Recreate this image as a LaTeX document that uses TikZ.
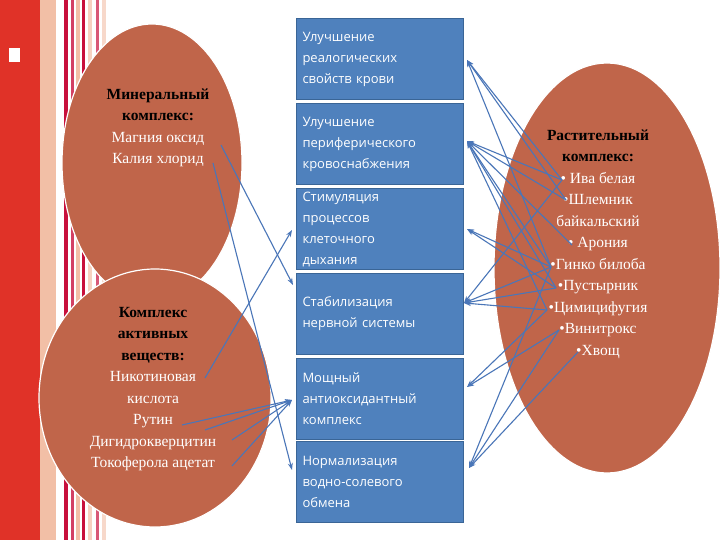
\documentclass[tikz,border=0pt]{standalone}
\usepackage{fontspec}
\setmainfont{Liberation Serif}
\newfontfamily\boxfont{Open Sans}
\usetikzlibrary{arrows.meta,shapes.geometric}
\definecolor{ell}{HTML}{C0654A}
\definecolor{bx}{HTML}{4F81BD}
\definecolor{bxd}{HTML}{3A6596}
\definecolor{ln}{HTML}{4A76B8}
\definecolor{redb}{HTML}{E03228}
\definecolor{crim}{HTML}{C8103C}
\definecolor{peach}{HTML}{F2BFA6}
\begin{document}
\begin{tikzpicture}[x=1pt,y=-1pt,
 ellnode/.style={ellipse,fill=ell,draw=white,line width=1.2pt,inner sep=0pt},
 ebox/.style={draw=bxd,fill=bx,line width=1pt,minimum width=167pt,minimum height=81pt,anchor=north west,align=left,text=white,font=\boxfont\fontsize{13}{21}\selectfont,text width=155pt,inner xsep=6pt},
 arr/.style={ln,line width=1.1pt,-{Stealth[length=7pt,width=5pt]}},
 etxt/.style={align=center,font=\fontsize{15.5}{21.5}\selectfont}]
\useasboundingbox (0,0) rectangle (720,540);
\fill[white] (0,0) rectangle (720,540);
% left decoration
\fill[redb] (0,0) rectangle (40,540);
\fill[peach] (40,0) rectangle (56,540);
\fill[crim] (64,0) rectangle (68,540);
\fill[crim!80] (71,0) rectangle (74,540);
\fill[peach] (76,0) rectangle (80,540);
\fill[crim] (82,0) rectangle (85,540);
\fill[peach!70] (88,0) rectangle (92,540);
\fill[crim!70] (96,0) rectangle (99,540);
\fill[peach!60] (102,0) rectangle (106,540);
\fill[white] (9,48) rectangle (20,62);
% ellipses
\node[ellnode,minimum width=180pt,minimum height=278pt] (e1) at (152,163) {};
\node[ellnode,minimum width=232pt,minimum height=258pt] (e2) at (155,398) {};
\node[ellnode,minimum width=226pt,minimum height=410pt] (e3) at (607,268) {};
\node[etxt] (t1) at (158,128) {\textbf{Минеральный}\\\textbf{комплекс:}\\\textcolor{white}{Магния оксид}\\\textcolor{white}{Калия хлорид}};
\node[etxt] (t2) at (153,389) {\textbf{Комплекс}\\\textbf{активных}\\\textbf{веществ:}\\\textcolor{white}{Никотиновая}\\\textcolor{white}{кислота}\\\textcolor{white}{Рутин}\\\textcolor{white}{Дигидрокверцитин}\\\textcolor{white}{Токоферола ацетат}};
\node[etxt] (t3) at (598,244) {\textbf{Растительный}\\\textbf{комплекс:}\\\textcolor{white}{• Ива белая}\\\textcolor{white}{•Шлемник}\\\textcolor{white}{байкальский}\\\textcolor{white}{• Арония}\\\textcolor{white}{•Гинко билоба}\\\textcolor{white}{•Пустырник}\\\textcolor{white}{•Цимицифугия}\\\textcolor{white}{•Винитрокс}\\\textcolor{white}{•Хвощ}};
% boxes
\node[ebox] (b1) at (296,18) {Улучшение\\реалогических\\свойств крови};
\node[ebox] (b2) at (296,103) {Улучшение\\периферического\\кровоснабжения};
\node[ebox] (b3) at (296,188) {Стимуляция\\процессов\\клеточного\\дыхания};
\node[ebox] (b4) at (296,273) {Стабилизация\\нервной системы};
\node[ebox] (b5) at (296,358) {Мощный\\антиоксидантный\\комплекс};
\node[ebox] (b6) at (296,441) {Нормализация\\водно-солевого\\обмена};
% anchor points
\coordinate (mg) at (221,145); \coordinate (kl) at (213,163);
\coordinate (nk) at (205,378); \coordinate (ka) at (182,425);
\coordinate (ru) at (205,430); \coordinate (dg) at (232,440); \coordinate (tk) at (232,466);
\coordinate (iv) at (562,180); \coordinate (sh) at (566,200); \coordinate (ar) at (572,245);
\coordinate (gi) at (551,267); \coordinate (pu) at (556,288); \coordinate (ci) at (547,310);
\coordinate (vi) at (559,330); \coordinate (hv) at (578,352);
\coordinate (in1) at (467,60); \coordinate (in2) at (467,141); \coordinate (in3) at (467,229);
\coordinate (in4) at (464,303); \coordinate (in5) at (467,387); \coordinate (in6) at (469,468);
\coordinate (l4) at (293,285); \coordinate (l6) at (292,470); \coordinate (l3) at (292,230); \coordinate (l5) at (292,400);
% left connectors
\draw[arr] (mg) -- (l4);
\draw[arr] (kl) -- (l6);
\draw[arr] (nk) -- (l3);
\draw[arr] (ka) -- (l5);
\draw[arr] (ru) -- (l5);
\draw[arr] (dg) -- (l5);
\draw[arr] (tk) -- (l5);
% right connectors
\foreach \s in {iv,sh,gi} \draw[arr] (\s) -- (in1);
\foreach \s in {iv,sh,ar,gi,pu,ci} \draw[arr] (\s) -- (in2);
\foreach \s in {gi,pu} \draw[arr] (\s) -- (in3);
\foreach \s in {iv,gi,pu,ci} \draw[arr] (\s) -- (in4);
\foreach \s in {ci,vi} \draw[arr] (\s) -- (in5);
\foreach \s in {gi,vi,hv} \draw[arr] (\s) -- (in6);
\end{tikzpicture}
\end{document}
